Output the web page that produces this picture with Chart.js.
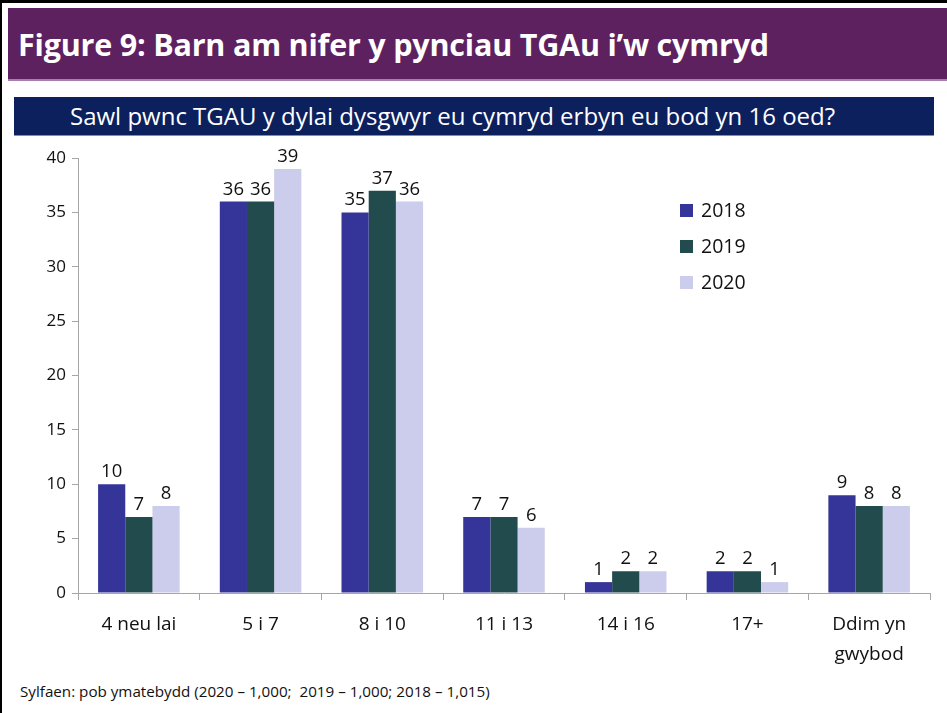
<!DOCTYPE html>
<html>
<head>
<meta charset="utf-8">
<script src="https://cdn.jsdelivr.net/npm/chart.js@4"></script>
<style>
  body { margin:0; background:#fff; font-family:"Open Sans", sans-serif; }
  .page { position:relative; width:947px; height:713px; overflow:hidden; }
  .frameTop { position:absolute; left:0; top:0; width:947px; height:3px; background:#000; }
  .frameLeft { position:absolute; left:0; top:0; width:2px; height:713px; background:#000; }
  .header { position:absolute; left:8px; top:8px; right:0; height:71px; background:#5e2160;
            border-bottom:2px solid #a57fad; color:#fff; font-weight:bold; font-size:30.5px;
            line-height:73px; padding-left:10px; letter-spacing:-0.2px; }
  .banner { position:absolute; left:14px; top:97px; width:920px; height:39px; background:#0c205e;
            border-bottom:1px solid #7f8fb6; color:#fff; font-size:24px; line-height:38px; padding-left:56px; box-sizing:border-box; }
  .chartBox { position:absolute; left:4px; top:140px; width:943px; height:530px; }
  .legend { position:absolute; left:680px; top:197px; font-size:19.5px; color:#111; }
  .legend div { height:36px; line-height:26px; }
  .legend span.sw { display:inline-block; width:13px; height:13px; margin-right:8px; vertical-align:0px; }
  .note { position:absolute; left:20px; top:681px; font-size:15.2px; color:#111; }
</style>
</head>
<body>
<div class="page">
  <div class="frameTop"></div>
  <div class="frameLeft"></div>
  <div class="header">Figure 9: Barn am nifer y pynciau TGAu i’w cymryd</div>
  <div class="banner">Sawl pwnc TGAU y dylai dysgwyr eu cymryd erbyn eu bod yn 16 oed?</div>
  <div class="chartBox"><canvas id="myChart"></canvas></div>
  <div class="legend" id="legend"></div>
  <div class="note">Sylfaen: pob ymatebydd (2020 – 1,000;&nbsp; 2019 – 1,000; 2018 – 1,015)</div>
</div>
<script>
var categories = ["4 neu lai", "5 i 7", "8 i 10", "11 i 13", "14 i 16", "17+", ["Ddim yn", "gwybod"]];
var years = ["2018", "2019", "2020"];
var values2018 = [10, 36, 35, 7, 1, 2, 9];
var values2019 = [7, 36, 37, 7, 2, 2, 8];
var values2020 = [8, 39, 36, 6, 2, 1, 8];
var barColors = ["#343499", "#224b4e", "#ccccec"];

// value labels above each bar
var valueLabels = {
  id: "valueLabels",
  afterDatasetsDraw: function(chart) {
    var ctx = chart.ctx;
    ctx.save();
    ctx.font = "18.5px 'Open Sans'";
    ctx.fillStyle = "#111";
    ctx.textAlign = "center";
    ctx.textBaseline = "bottom";
    chart.data.datasets.forEach(function(ds, i) {
      chart.getDatasetMeta(i).data.forEach(function(bar, j) {
        ctx.fillText(ds.data[j], bar.x, bar.y - 3);
      });
    });
    ctx.restore();
  }
};

var allValues = [values2018, values2019, values2020];
var datasets = [];
for (var i = 0; i < years.length; i++) {
  datasets.push({
    label: years[i],
    data: allValues[i],
    backgroundColor: barColors[i],
    categoryPercentage: 0.67,
    barPercentage: 1
  });
}

new Chart("myChart", {
  type: "bar",
  data: { labels: categories, datasets: datasets },
  plugins: [valueLabels],
  options: {
    responsive: true,
    maintainAspectRatio: false,
    animation: false,
    layout: { padding: { top: 18, right: 17, left: 0, bottom: 0 } },
    plugins: { legend: { display: false }, tooltip: { enabled: false } },
    scales: {
      x: {
        grid: { drawOnChartArea: false, drawTicks: true, tickLength: 7, color: "#a6a6a6" },
        border: { color: "#a6a6a6" },
        ticks: { color: "#111", font: { family: "Open Sans", size: 19, lineHeight: 1.55 }, padding: 10, maxRotation: 0 },
        afterFit: function(scale) { scale.height = 77; }
      },
      y: {
        min: 0, max: 40,
        grid: { drawOnChartArea: false, drawTicks: true, tickLength: 6, color: "#a6a6a6" },
        border: { color: "#a6a6a6" },
        ticks: { stepSize: 5, color: "#111", font: { family: "Open Sans", size: 17 }, padding: 6 },
        afterFit: function(scale) { scale.width = 74; }
      }
    }
  }
});

var legend = document.getElementById("legend");
for (var k = 0; k < years.length; k++) {
  var row = document.createElement("div");
  row.innerHTML = '<span class="sw" style="background:' + barColors[k] + '"></span>' + years[k];
  legend.appendChild(row);
}
</script>
</body>
</html>
